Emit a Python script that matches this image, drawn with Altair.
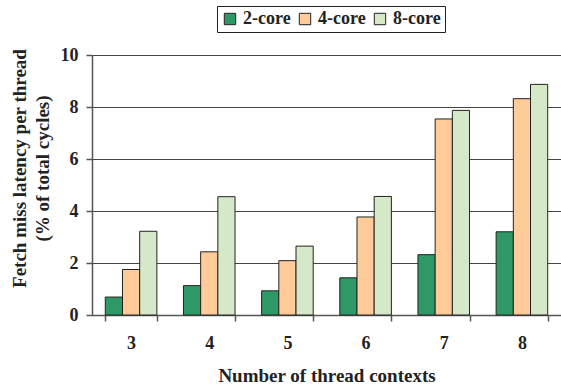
import altair as alt
import pandas as pd

threads = ["3", "4", "5", "6", "7", "8"]
series = ["2-core", "4-core", "8-core"]
core2 = [0.69, 1.13, 0.93, 1.43, 2.32, 3.20]
core4 = [1.75, 2.43, 2.09, 3.77, 7.54, 8.32]
core8 = [3.22, 4.55, 2.65, 4.56, 7.87, 8.87]
colors = ["#2E9966", "#FFCC99", "#D5E8C8"]

rows = []
for name, vals in zip(series, [core2, core4, core8]):
    for t, v in zip(threads, vals):
        rows.append({"threads": t, "config": name, "value": v})
df = pd.DataFrame(rows)

FONT = "Liberation Serif"

chart = alt.Chart(df).mark_bar(stroke="#222222", strokeWidth=1).encode(
    x=alt.X("threads:N", sort=threads,
            scale=alt.Scale(paddingInner=0.34, paddingOuter=0.17),
            axis=alt.Axis(title="Number of thread contexts", labelAngle=0,
                          tickBand="extent", tickSize=6, labelPadding=13,
                          titleY=66, titleBaseline="alphabetic", titleFontSize=19)),
    xOffset=alt.XOffset("config:N", sort=series, scale=alt.Scale(paddingInner=0, paddingOuter=0)),
    y=alt.Y("value:Q", scale=alt.Scale(domain=[0, 10]),
            axis=alt.Axis(values=[0, 2, 4, 6, 8, 10], tickSize=6, labelPadding=8,
                          title=["Fetch miss latency per thread", "(% of total cycles)"],
                          titleX=-73, titleY=113, titleBaseline="middle",
                          titleLineHeight=23, titleFontSize=19)),
    color=alt.Color("config:N", sort=series,
                    scale=alt.Scale(domain=series, range=colors),
                    legend=alt.Legend(title=None, orient="none", direction="horizontal",
                                      legendX=125, legendY=-49,
                                      symbolType="square", symbolSize=130,
                                      symbolStrokeColor="#222222", symbolStrokeWidth=1,
                                      labelOffset=4, columnPadding=5, padding=4,
                                      strokeColor="#222222")),
).properties(
    width=469, height=260,
    autosize=alt.AutoSizeParams(type="none"),
    padding={"left": 92, "top": 55, "right": 0, "bottom": 71},
).configure_view(
    stroke=None
).configure_axis(
    labelFont=FONT, titleFont=FONT, labelFontWeight="bold", titleFontWeight="bold",
    labelFontSize=18, titleFontSize=18, labelColor="#222222", titleColor="#222222",
    domainColor="#555555", domainWidth=1.5, tickColor="#555555", tickWidth=1.5,
    gridColor="#444444", gridWidth=1,
).configure_axisX(
    grid=False
).configure_legend(
    labelFont=FONT, labelFontWeight="bold", labelFontSize=18, labelColor="#222222",
)

chart.save("out.html", embed_options={"renderer": "svg", "actions": False})
